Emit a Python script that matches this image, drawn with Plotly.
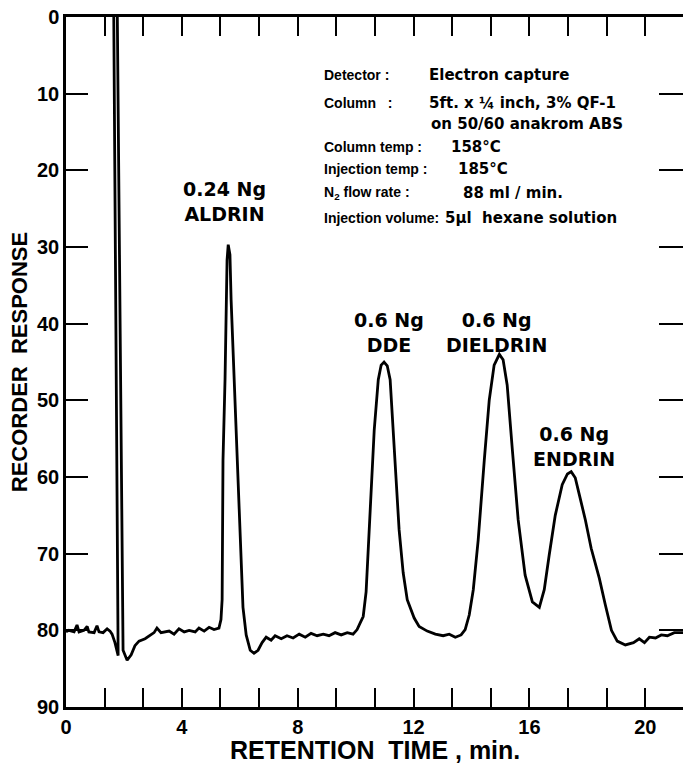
import plotly.graph_objects as go

# Recorder trace: retention time (min) and recorder response (chart divisions)
time_min = [
    0.00, 0.10, 0.28, 0.38, 0.45, 0.62, 0.73, 0.79, 0.97, 1.07, 1.14, 1.28, 1.42, 1.52,
    1.59, 1.69, 1.80, 1.64, 1.76, 1.97, 2.11, 2.25, 2.38, 2.52, 2.73, 2.87, 3.04, 3.14,
    3.28, 3.56, 3.73, 3.90, 4.08, 4.25, 4.46, 4.59, 4.77, 4.94, 5.11, 5.28, 5.35,
    5.39, 5.42, 5.49, 5.53, 5.56, 5.60, 5.66, 5.70, 5.80, 5.90, 6.01, 6.11, 6.22, 6.36,
    6.49, 6.63, 6.77, 6.91, 7.08, 7.22, 7.43, 7.63, 7.84, 8.05, 8.26, 8.46, 8.67, 8.88,
    9.08, 9.29, 9.50, 9.71, 9.91, 10.05, 10.16,
    10.26, 10.36, 10.47, 10.64, 10.78, 10.88, 10.98, 11.09, 11.19, 11.30, 11.50, 11.64,
    11.78, 12.02, 12.19, 12.47, 12.75, 13.02, 13.23, 13.44, 13.64, 13.78,
    13.92, 14.06, 14.23, 14.44, 14.61, 14.78, 14.96, 15.09, 15.23, 15.41, 15.61, 15.85,
    16.10, 16.34, 16.51, 16.68, 16.89, 17.13, 17.31, 17.44, 17.58, 17.72, 17.93, 18.13,
    18.41, 18.62, 18.83, 19.03, 19.31, 19.59, 19.79, 19.97, 20.14, 20.35, 20.55, 20.76,
    21.00, 21.30,
]
response = [
    80.2, 80.0, 80.2, 79.3, 80.2, 80.0, 79.5, 80.2, 80.3, 79.4, 80.2, 80.3, 79.8, 80.1,
    80.5, 81.6, 83.3, -5.0, -5.0, 82.6, 83.9, 83.2, 82.0, 81.4, 81.1, 80.7, 80.3, 79.7,
    80.3, 80.1, 80.5, 79.8, 80.2, 80.0, 80.2, 79.7, 80.1, 79.6, 79.9, 79.7, 78.6,
    76.0, 57.8, 47.3, 36.9, 31.7, 29.7, 31.0, 36.9, 47.3, 57.8, 68.2, 77.0, 80.6, 82.6,
    83.0, 82.6, 81.6, 80.9, 81.3, 80.7, 81.1, 80.7, 81.0, 80.5, 80.9, 80.4, 80.7, 80.5,
    80.7, 80.3, 80.6, 80.3, 80.5, 79.9, 79.0,
    78.2, 75.0, 66.9, 53.9, 47.3, 45.4, 45.0, 45.5, 47.3, 53.9, 66.9, 72.5,
    76.0, 78.4, 79.5, 80.1, 80.5, 80.7, 80.5, 80.9, 80.6, 79.9,
    78.0, 74.7, 68.2, 57.8, 50.0, 45.4, 44.0, 44.7, 48.0, 56.5, 65.6, 72.8,
    76.3, 77.0, 74.7, 70.2, 65.0, 61.0, 59.6, 59.3, 60.1, 62.3, 65.6, 69.3,
    73.2, 76.7, 80.0, 81.4, 81.9, 81.6, 81.1, 81.6, 80.9, 81.0, 80.6, 80.7,
    80.3, 80.3,
]

# Peak labels
peak_amounts = ["0.24 Ng", "0.6 Ng", "0.6 Ng", "0.6 Ng"]
peak_names = ["ALDRIN", "DDE", "DIELDRIN", "ENDRIN"]
peak_label_x = [5.46, 11.16, 14.85, 17.55]
peak_label_y = [24.1, 41.2, 41.2, 56.0]

# Operating conditions
cond_labels = ["Detector :", "Column   :", "", "Column temp :", "Injection temp :",
               "N<sub>2</sub> flow rate :", "Injection volume:"]
cond_values = ["Electron capture", "5ft. x \u00bc inch, 3% QF-1", "on 50/60 anakrom ABS",
               "158\u00b0C", "185\u00b0C", "88 ml / min.", "5\u00b5l  hexane solution"]
cond_value_x = [12.47, 12.45, 12.52, 13.23, 13.47, 13.65, 13.02]
cond_y = [7.56, 11.2, 13.96, 16.96, 19.83, 22.96, 26.2]
cond_label_x = 8.84

# Axis ticks
x_tickvals = [k * 4 / 3 for k in range(17)]
x_ticktext = [str(int(round(v))) if k % 3 == 0 else "" for k, v in enumerate(x_tickvals)]
y_tickvals = [0, 10, 20, 30, 40, 50, 60, 70, 80, 90]
right_tickvals = [10, 20, 30, 40, 50, 60, 70, 80]

FONT = "Liberation Sans"
WIDE = "DejaVu Sans"

fig = go.Figure()
fig.add_trace(go.Scatter(
    x=time_min, y=response, mode="lines",
    line=dict(color="black", width=2.8),
    hoverinfo="skip", showlegend=False,
))
# empty trace so the right-hand tick axis is drawn
fig.add_trace(go.Scatter(x=[], y=[], yaxis="y2", showlegend=False, hoverinfo="skip"))

for amt, name, px, py in zip(peak_amounts, peak_names, peak_label_x, peak_label_y):
    fig.add_annotation(
        x=px, y=py, xref="x", yref="y", text=f"{amt}<br>{name}", showarrow=False,
        font=dict(family=WIDE, size=19, color="black", weight="bold"), align="center",
        xanchor="center", yanchor="middle",
    )

for lab, val, vx, cy in zip(cond_labels, cond_values, cond_value_x, cond_y):
    if lab:
        fig.add_annotation(
            x=cond_label_x, y=cy, xref="x", yref="y", text=lab, showarrow=False,
            font=dict(family=FONT, size=14, color="black", weight="bold"),
            xanchor="left", yanchor="middle",
        )
    fig.add_annotation(
        x=vx, y=cy, xref="x", yref="y", text=val, showarrow=False,
        font=dict(family=WIDE, size=15, color="black", weight="bold"),
        xanchor="left", yanchor="middle",
    )

# x-axis title
fig.add_annotation(
    x=0.5, y=-0.062, xref="paper", yref="paper", text="RETENTION  TIME , min.",
    showarrow=False, xanchor="center", yanchor="middle",
    font=dict(family=FONT, size=25, color="black", weight="bold"),
)

fig.update_layout(
    width=683, height=766,
    margin=dict(l=66, r=0, t=17, b=59),
    paper_bgcolor="white", plot_bgcolor="white",
    xaxis=dict(
        range=[0, 21.3], tickvals=x_tickvals, ticktext=x_ticktext,
        ticks="inside", ticklen=19, tickwidth=2, tickcolor="black",
        showline=True, linewidth=2.5, linecolor="black", mirror="ticks",
        showgrid=False, zeroline=False,
        tickfont=dict(family=FONT, size=20, color="black", weight="bold"),
    ),
    yaxis=dict(
        range=[90, 0], tickvals=y_tickvals,
        ticks="inside", ticklen=22, tickwidth=2, tickcolor="black",
        showline=True, linewidth=2.5, linecolor="black",
        showgrid=False, zeroline=False,
        tickfont=dict(family=FONT, size=20, color="black", weight="bold"),
        title=dict(text="RECORDER  RESPONSE", standoff=4,
                   font=dict(family=FONT, size=22, color="black", weight="bold")),
    ),
    yaxis2=dict(
        range=[90, 0], overlaying="y", side="right", tickvals=right_tickvals,
        ticks="inside", ticklen=24, tickwidth=2, tickcolor="black",
        showticklabels=False, showline=False, showgrid=False, zeroline=False,
    ),
)

fig.write_html("out.html")
